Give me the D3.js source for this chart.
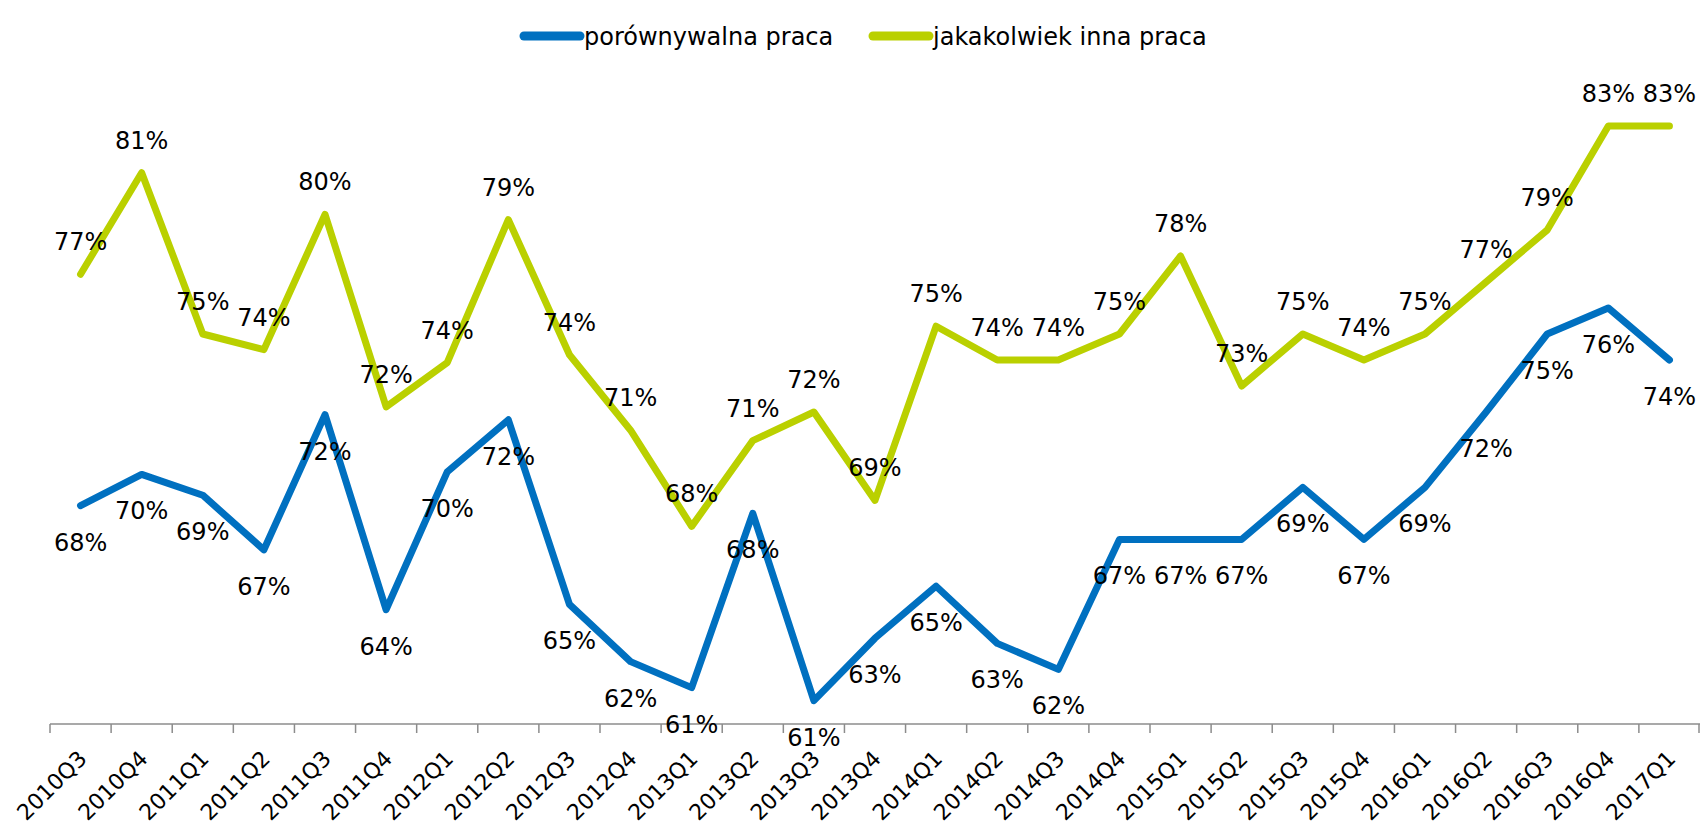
<!DOCTYPE html>
<html>
<head>
<meta charset="utf-8">
<script src="https://cdn.jsdelivr.net/npm/d3@7"></script>
<style>
  body { margin: 0; background: white; }
</style>
</head>
<body>
<script>
const POLICE = 'DejaVu Sans, Verdana, sans-serif'
const COULEUR_PORO = '#0070C0'
const COULEUR_INNA = '#BAD000'
const COULEUR_AXE = '#8c8c8c'

// kwartaly
const kwartaly = ['2010Q3', '2010Q4', '2011Q1', '2011Q2', '2011Q3', '2011Q4', '2012Q1', '2012Q2', '2012Q3',
  '2012Q4', '2013Q1', '2013Q2', '2013Q3', '2013Q4', '2014Q1', '2014Q2', '2014Q3', '2014Q4', '2015Q1',
  '2015Q2', '2015Q3', '2015Q4', '2016Q1', '2016Q2', '2016Q3', '2016Q4', '2017Q1']

// porownywalna praca
const porownywalna = [0.684, 0.696, 0.688, 0.667, 0.719, 0.644, 0.697, 0.717, 0.646,
  0.624, 0.614, 0.681, 0.609, 0.633, 0.653, 0.631, 0.621, 0.671, 0.671,
  0.671, 0.691, 0.671, 0.691, 0.720, 0.750, 0.760, 0.740]

// jakakolwiek inna praca
const inna = [0.773, 0.812, 0.750, 0.744, 0.796, 0.722, 0.739, 0.794, 0.742,
  0.713, 0.676, 0.709, 0.720, 0.686, 0.753, 0.740, 0.740, 0.750, 0.780,
  0.730, 0.750, 0.740, 0.750, 0.770, 0.790, 0.830, 0.830]

const legenda = ['porównywalna praca', 'jakakolwiek inna praca']

const width = 1700, height = 824

const svg = d3.select('body').append('svg')
  .attr('width', width).attr('height', height)
  .style('display', 'block').style('background-color', 'white')

const x = d3.scaleBand().domain(kwartaly).range([50, 1700])
const y = d3.scaleLinear().domain([0.60, 0.85]).range([724, 74])
const fmt = d3.format('.0%')

// os X
const y0 = y(0.60)
const axis = svg.append('g').attr('transform', `translate(0,${y0})`)
axis.append('line').attr('x1', 50).attr('x2', 1700).attr('stroke', COULEUR_AXE).attr('stroke-width', 1.5)
const granice = kwartaly.map(k => x(k)).concat([x.range()[1] - 1])
axis.selectAll('.tick').data(granice).enter().append('line')
  .attr('x1', d => d).attr('x2', d => d).attr('y1', 0).attr('y2', 9)
  .attr('stroke', COULEUR_AXE).attr('stroke-width', 1.5)
axis.selectAll('.lbl').data(kwartaly).enter().append('text')
  .attr('transform', d => `translate(${x(d) + x.bandwidth() / 2 + 7.5},${36}) rotate(-45)`)
  .attr('text-anchor', 'end')
  .attr('font-family', POLICE).attr('font-size', 22).attr('fill', '#000')
  .text(d => d)

// linie
const line = d3.line().x((d, i) => x(kwartaly[i]) + x.bandwidth() / 2).y(d => y(d))
const serie = [
  { vals: porownywalna, color: COULEUR_PORO, dy: 45 },
  { vals: inna, color: COULEUR_INNA, dy: -24 }
]
serie.forEach(s => {
  svg.append('path').datum(s.vals).attr('d', line)
    .attr('fill', 'none').attr('stroke', s.color).attr('stroke-width', 7)
    .attr('stroke-linejoin', 'round').attr('stroke-linecap', 'round')
})
serie.forEach(s => {
  svg.append('g').selectAll('text').data(s.vals).enter().append('text')
    .attr('x', (d, i) => x(kwartaly[i]) + x.bandwidth() / 2)
    .attr('y', d => y(d) + s.dy)
    .attr('text-anchor', 'middle').attr('font-family', POLICE).attr('font-size', 24).attr('fill', '#000')
    .text(d => fmt(d))
})

// legenda
const leg = [{ x: 524, color: COULEUR_PORO }, { x: 873, color: COULEUR_INNA }]
leg.forEach((l, i) => {
  svg.append('line').attr('x1', l.x).attr('x2', l.x + 56).attr('y1', 36).attr('y2', 36)
    .attr('stroke', l.color).attr('stroke-width', 9).attr('stroke-linecap', 'round')
  svg.append('text').attr('x', l.x + 60).attr('y', 45)
    .attr('font-family', POLICE).attr('font-size', 24).attr('fill', '#000')
    .text(legenda[i])
})
</script>
</body>
</html>
